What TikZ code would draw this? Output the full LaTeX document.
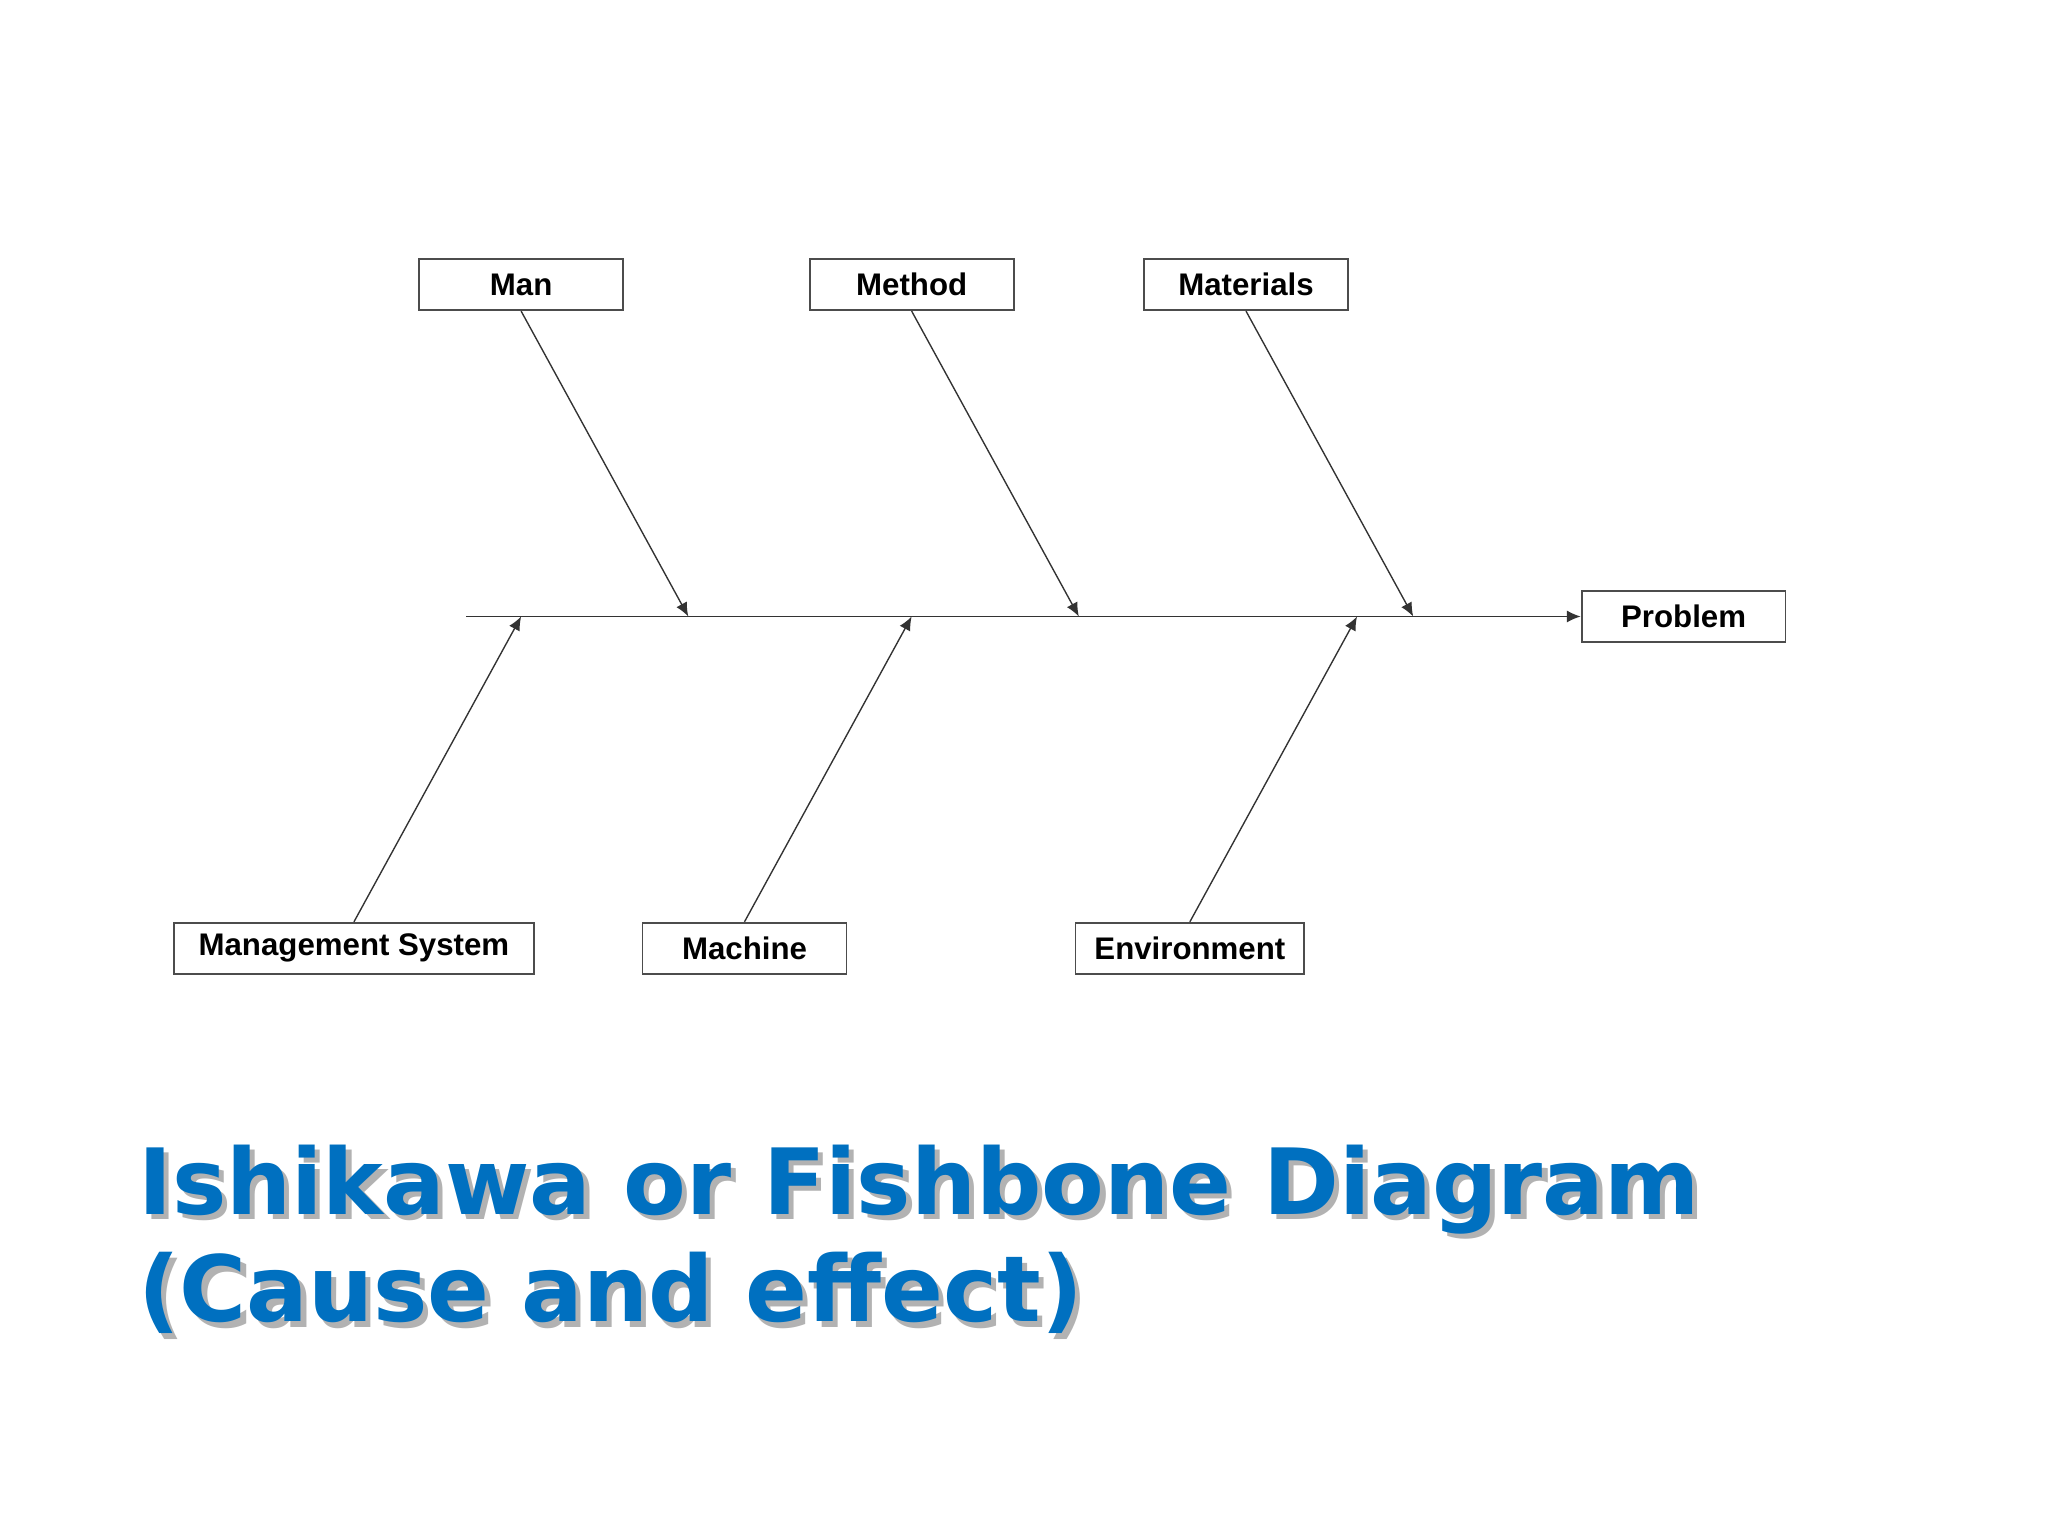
\documentclass[tikz,border=0pt]{standalone}
\usepackage{fontspec}
\setmainfont{Liberation Sans}
\newfontfamily\titlefont{DejaVu Sans}
\usetikzlibrary{arrows.meta}
\definecolor{titleblue}{RGB}{0,112,192}
\begin{document}
\begin{tikzpicture}[x=0.01cm,y=-0.01cm,
  cause/.style={draw=black!70,line width=0.4pt,minimum width=1.56cm,minimum height=0.39cm,inner sep=0pt,font=\fontsize{6.8}{8}\selectfont\bfseries},
  bone/.style={draw=black!80,line width=0.3pt,-{Latex[length=3pt,width=2.6pt]}},
  ttl/.style={anchor=base west,inner sep=0pt,font=\titlefont\bfseries\fontsize{21}{25}\selectfont}]
\useasboundingbox (0,0) rectangle (1568,1176);
\node[cause] (man) at (399,218) {Man};
\node[cause] (method) at (698,218) {Method};
\node[cause] (mat) at (954,218) {Materials};
\node[cause] (prob) at (1289,472) {Problem};
\node[cause,minimum width=2.76cm] (mgmt) at (271,726) {Management System};
\node[cause] (mach) at (570,726) {Machine};
\node[cause,minimum width=1.75cm] (env) at (911,726) {Environment};
\coordinate (tail) at (357,472);
\coordinate (j1) at (527,472);
\coordinate (j2) at (826,472);
\coordinate (j3) at (1082,472);
\coordinate (k1) at (399,472);
\coordinate (k2) at (698,472);
\coordinate (k3) at (1039,472);
\draw[bone] (tail) -- (prob.west);
\draw[bone] (man.south) -- (j1);
\draw[bone] (method.south) -- (j2);
\draw[bone] (mat.south) -- (j3);
\draw[bone] (mgmt.north) -- (k1);
\draw[bone] (mach.north) -- (k2);
\draw[bone] (env.north) -- (k3);
\node[ttl,text=black!30] (t1s) at (109,934) {\resizebox{11.95cm}{!}{Ishikawa or Fishbone Diagram}};
\node[ttl,text=black!30] (t2s) at (109,1016) {\resizebox{7.23cm}{!}{(Cause and effect)}};
\node[ttl,text=titleblue] (t1) at (105,930) {\resizebox{11.95cm}{!}{Ishikawa or Fishbone Diagram}};
\node[ttl,text=titleblue] (t2) at (105,1012) {\resizebox{7.23cm}{!}{(Cause and effect)}};
\end{tikzpicture}
\end{document}
